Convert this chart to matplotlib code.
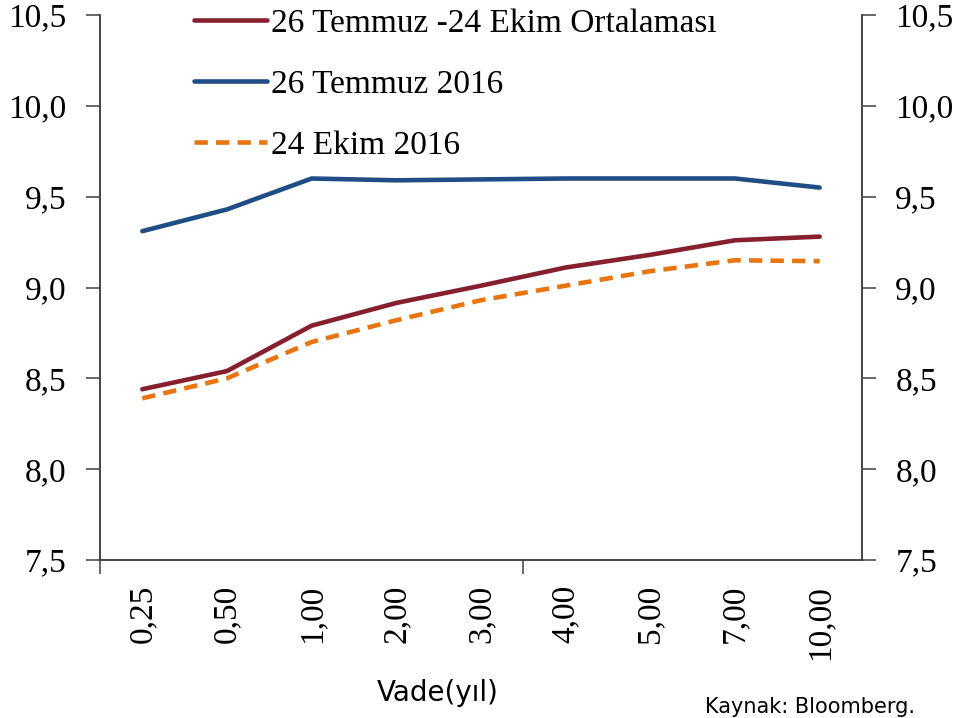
import numpy as np
import matplotlib
matplotlib.use("Agg")
from matplotlib import pyplot as plt
from matplotlib.ticker import FixedLocator

# tenors (years) and yields
tenors = ["0,25", "0,50", "1,00", "2,00", "3,00", "4,00", "5,00", "7,00", "10,00"]
avg_jul_oct = [8.44, 8.54, 8.79, 8.915, 9.01, 9.11, 9.18, 9.26, 9.28]
jul_26 = [9.31, 9.43, 9.60, 9.59, 9.595, 9.60, 9.60, 9.60, 9.55]
oct_24 = [8.39, 8.50, 8.70, 8.82, 8.93, 9.01, 9.09, 9.15, 9.145]

labels = ["26 Temmuz -24 Ekim Ortalaması", "26 Temmuz 2016", "24 Ekim 2016"]
colors = ["#86202F", "#1F4E86", "#E8750F"]
yticks = [7.5, 8.0, 8.5, 9.0, 9.5, 10.0, 10.5]

SERIF = "Liberation Serif"
SPINE = "#3f3f3f"

fig = plt.figure(figsize=(9.54, 7.18), dpi=100)
ax = fig.add_axes([100 / 954, 1 - 560 / 718, 762 / 954, 545 / 718])

x = np.arange(len(tenors))
ax.plot(x, avg_jul_oct, color=colors[0], lw=3.3, label=labels[0], solid_capstyle="round")
ax.plot(x, jul_26, color=colors[1], lw=3.3, label=labels[1], solid_capstyle="round")
ax.plot(x, oct_24, color=colors[2], lw=3.3, label=labels[2], linestyle=(0, (2.9, 1.8)))

ax.set_xlim(-0.5, len(tenors) - 0.5)
ax.set_ylim(7.5, 10.5)

# y axis (left)
ax.set_yticks(yticks)
ax.set_yticklabels([f"{v:.1f}".replace(".", ",") for v in yticks], family=SERIF, fontsize=24)
ax.tick_params(axis="y", direction="out", length=10, width=1.1, color=SPINE, pad=14)

# x axis: tick marks at group boundaries, labels at centres
ax.xaxis.set_major_locator(FixedLocator([-0.5, 4.5]))
ax.xaxis.set_minor_locator(FixedLocator(x))
ax.set_xticklabels([], minor=False)
ax.set_xticklabels(tenors, minor=True, rotation=90, family=SERIF, fontsize=24, va="top")
ax.tick_params(axis="x", which="major", direction="out", length=10, width=1.1, color=SPINE)
ax.tick_params(axis="x", which="minor", length=0, pad=18)

for side in ["left", "bottom", "right"]:
    ax.spines[side].set_color(SPINE)
    ax.spines[side].set_linewidth(1.1)
ax.spines["top"].set_visible(False)

# right axis mirrors the left one
ax2 = ax.twinx()
ax2.set_ylim(7.5, 10.5)
ax2.set_yticks(yticks)
ax2.set_yticklabels([f"{v:.1f}".replace(".", ",") for v in yticks], family=SERIF, fontsize=24)
ax2.tick_params(axis="y", direction="out", length=10, width=1.1, color=SPINE, pad=14)
for side in ["left", "bottom", "right"]:
    ax2.spines[side].set_color(SPINE)
    ax2.spines[side].set_linewidth(1.1)
ax2.spines["top"].set_visible(False)

leg = ax.legend(
    loc="upper left",
    bbox_to_anchor=(194 / 954, 1 - 8 / 718),
    bbox_transform=fig.transFigure,
    frameon=False,
    prop={"family": SERIF, "size": 24},
    handlelength=2.2,
    handletextpad=0.12,
    labelspacing=0.92,
    borderpad=0,
    borderaxespad=0,
)

fig.text(438 / 954, 1 - 693 / 718, "Vade(yıl)", ha="center", va="center",
         family="DejaVu Sans", fontsize=20)
fig.text(915 / 954, 5 / 718, "Kaynak: Bloomberg.", ha="right", va="baseline",
         family="DejaVu Sans", fontsize=15)

fig.savefig("out.png", dpi=100)
plt.close(fig)
